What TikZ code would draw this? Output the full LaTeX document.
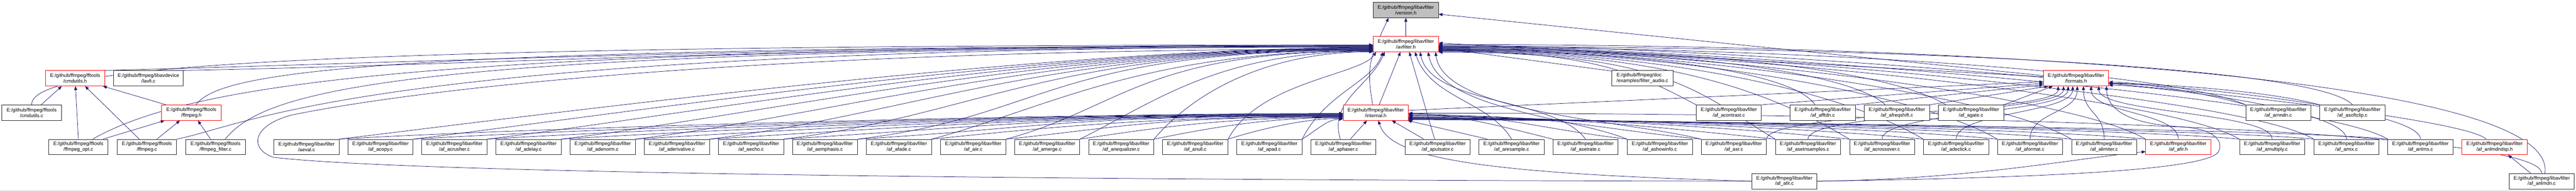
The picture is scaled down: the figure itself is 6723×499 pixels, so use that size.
\documentclass[tikz,border=0pt]{standalone}
\usepackage{fontspec}
\setmainfont{Liberation Sans}
\usetikzlibrary{arrows.meta,calc}
\pgfdeclarelayer{bg}
\pgfsetlayers{bg,main}
\definecolor{eblue}{HTML}{191970}
\definecolor{vgray}{HTML}{BFBFBF}
\newcommand\nfont{\fontsize{12.8}{14.5}\selectfont}
\newcommand\lav[4]{\node[#1] (#2) at (#3) {E:/github/ffmpeg/libavfilter\\/#4};}
\begin{document}
\begin{tikzpicture}[x=1pt,y=1pt,
 box/.style={draw=black!85, fill=white, line width=1.1pt, minimum height=40pt, minimum width=170pt, inner sep=0pt, align=center, font=\nfont},
 rbox/.style={box, draw=red},
 gbox/.style={box, fill=vgray},
 e/.style={draw=eblue, line width=1pt, -{Triangle[length=10pt,width=8pt]}}]
\begin{pgfonlayer}{bg}
\fill[white] (0,0) rectangle (6723,-499);
\end{pgfonlayer}
\useasboundingbox (0,0) rectangle (6723,-499);
\draw[black!35, line width=1pt] (0,-498.5) -- (6723,-498.5);
% row 0,1
\lav{gbox}{V}{3669,-26}{version.h}
\lav{rbox}{A}{3669,-115}{avfilter.h}
% row 2
\node[rbox, minimum width=154pt] (CH) at (196,-204) {E:/github/ffmpeg/fftools\\/cmdutils.h};
\node[box, minimum width=181pt] (lavfi) at (387.5,-204) {E:/github/ffmpeg/libavdevice\\/lavfi.c};
\node[box, minimum width=159pt, align=left] (FA) at (4286.5,-204) {E:/github/ffmpeg/doc\\/examples/filter\_audio.c};
\lav{rbox}{F}{5418,-204}{formats.h}
% row 3
\node[box, minimum width=155pt] (CC) at (82.5,-293.5) {E:/github/ffmpeg/fftools\\/cmdutils.c};
\node[rbox, minimum width=155pt] (FH) at (499.5,-293.5) {E:/github/ffmpeg/fftools\\/ffmpeg.h};
\lav{rbox}{I}{3590.5,-293.5}{internal.h}
\lav{box}{acontr}{4512,-293.5}{af\_acontrast.c}
\lav{box}{afftdn}{4757,-293.5}{af\_afftdn.c}
\lav{box}{afreq}{4950.5,-293.5}{af\_afreqshift.c}
\lav{box}{agate}{5144,-293.5}{af\_agate.c}
\lav{box}{arnndn}{5946,-293.5}{af\_arnndn.c}
\lav{box}{asoft}{6139.5,-293.5}{af\_asoftclip.c}
% row 4
\node[box, minimum width=155pt] (opt) at (204.5,-383) {E:/github/ffmpeg/fftools\\/ffmpeg\_opt.c};
\node[box, minimum width=155pt] (ffc) at (383.5,-383) {E:/github/ffmpeg/fftools\\/ffmpeg.c};
\node[box, minimum width=155pt] (filt) at (562.5,-383) {E:/github/ffmpeg/fftools\\/ffmpeg\_filter.c};
\lav{box}{aeval}{800,-383}{aeval.c}
\lav{box}{acopy}{993,-383}{af\_acopy.c}
\lav{box}{acrusher}{1186,-383}{af\_acrusher.c}
\lav{box}{adelay}{1379.5,-383}{af\_adelay.c}
\lav{box}{adenorm}{1573,-383}{af\_adenorm.c}
\lav{box}{aderiv}{1766.5,-383}{af\_aderivative.c}
\lav{box}{aecho}{1960,-383}{af\_aecho.c}
\lav{box}{aemph}{2153,-383}{af\_aemphasis.c}
\lav{box}{afade}{2346,-383}{af\_afade.c}
\lav{box}{aiir}{2540,-383}{af\_aiir.c}
\lav{box}{amerge}{2733,-383}{af\_amerge.c}
\lav{box}{aneq}{2926,-383}{af\_anequalizer.c}
\lav{box}{anull}{3119.5,-383}{af\_anull.c}
\lav{box}{apad}{3313,-383}{af\_apad.c}
\lav{box}{aphaser}{3506,-383}{af\_aphaser.c}
\lav{box}{apuls}{3752,-383}{af\_apulsator.c}
\lav{box}{aresamp}{3945,-383}{af\_aresample.c}
\lav{box}{asetrate}{4138,-383}{af\_asetrate.c}
\lav{box}{ashow}{4332,-383}{af\_ashowinfo.c}
\lav{box}{asr}{4525,-383}{af\_asr.c}
\lav{box}{asetn}{4718.5,-383}{af\_asetnsamples.c}
\lav{box}{across}{4912,-383}{af\_acrossover.c}
\lav{box}{adeclick}{5105,-383}{af\_adeclick.c}
\lav{box}{aformat}{5298,-383}{af\_aformat.c}
\lav{box}{alimit}{5491.5,-383}{af\_alimiter.c}
\lav{rbox}{afirh}{5685,-383}{af\_afir.h}
\lav{box}{amult}{5930,-383}{af\_amultiply.c}
\lav{box}{amix}{6124,-383}{af\_amix.c}
\lav{box}{anlms}{6317,-383}{af\_anlms.c}
\lav{rbox}{ndsp}{6510.5,-383}{af\_anlmdndsp.h}
% row 5
\lav{box}{afirc}{4657,-472}{af\_afir.c}
\lav{box}{anlmdn}{6633.5,-472}{af\_anlmdn.c}
\coordinate (lp1) at (715,-410);
\coordinate (lp2) at (760,-300);
\coordinate (lp3) at (5790,-395);
\coordinate (lp4) at (5690,-330);
\begin{pgfonlayer}{bg}
% top
\draw[e] (A) -- (V);
\draw[e] ($(I.north)+(-8,0)$) to[out=100,in=-115,looseness=1.2] ($(V.south)+(-45,0)$);
\draw[e] ($(F.west)+(0,7)$) -- ($(V.east)+(0,-11)$);
\draw[e] ($(F.west)+(0,4)$) -- ($(A.east)+(0,3)$);
\draw[e] ($(I.east)+(0,6)$) -- ($(F.west)+(0,-9)$);
\draw[e] ($(I.north)+(9,0)$) -- ($(A.south)+(-14,0)$);
% fftools
\draw[e] ($(CC.north)+(25,0)$) -- ($(CH.south)+(-35,0)$);
\draw[e] (opt.north) -- ($(CH.south)+(1,0)$);
\draw[e] ($(ffc.north)+(-20,0)$) -- ($(CH.south)+(26,0)$);
\draw[e] ($(FH.north west)+(12,0)$) -- ($(CH.south east)+(-5,0)$);
\draw[e] ($(opt.north east)+(-14,0)$) -- ($(FH.south west)+(8,0)$);
\draw[e] ($(ffc.north)+(26,0)$) -- ($(FH.south)+(-30,0)$);
\draw[e] ($(filt.north)+(-13,0)$) -- ($(FH.south)+(17,0)$);
\draw[e] (CC.north) .. controls +(0,90) and +(-3000,0) .. ($(A.west)+(0,-2)$);
\draw[e] (CH.north east) .. controls +(800,20) and +(-1500,0) .. ($(A.west)+(0,-3)$);
\draw[e] (lavfi.north east) .. controls +(800,15) and +(-1500,0) .. ($(A.west)+(0,-4)$);
\draw[e] ($(FH.north)+(12,0)$) .. controls +(60,80) and +(-2700,0) .. ($(A.west)+(0,-5)$);
\draw[e] ($(opt.north)+(37,0)$) .. controls +(250,140) and +(-2500,0) .. ($(A.west)+(0,-6)$);
\draw[e] (ffc.north east) .. controls +(200,40) and +(-2600,0) .. ($(A.west)+(0,-7)$);
\draw[e] ($(filt.north east)+(-53,0)$) .. controls +(100,120) and +(-2600,0) .. ($(A.west)+(0,-8)$);
% left group
\foreach \n/\o/\p in {aeval/9/2,acopy/10/3,acrusher/11/4,adelay/12/5,adenorm/13/6,aderiv/14/7,aecho/15/8,aemph/16/9}{
 \draw[e] (\n.north east) .. controls +(500,60) and +(-850,0) .. ($(A.west)+(0,-\o)$);
 \draw[e] (\n.north east) .. controls +(500,30) and +(-750,0) .. ($(I.west)+(0,-\p)$);
}
\foreach \n/\o/\p in {afade/17/10,aiir/18/11}{
 \draw[e] (\n.north east) .. controls +(300,80) and +(-600,0) .. ($(A.west)+(0,-\o)$);
 \draw[e] (\n.north east) .. controls +(300,30) and +(-500,0) .. ($(I.west)+(0,-\p)$);
}
\draw[e] (amerge.north east) .. controls +(200,100) and +(-400,0) .. ($(A.west)+(0,-19)$);
\draw[e] (amerge.north east) .. controls +(200,30) and +(-300,0) .. ($(I.west)+(0,-12)$);
\draw[e] (aneq.north east) .. controls +(120,140) and +(-250,0) .. ($(A.west)+(0,-20)$);
\draw[e] (aneq.north east) .. controls +(150,30) and +(-200,0) .. ($(I.west)+(0,-13)$);
\draw[e] (anull.north east) .. controls +(80,150) and +(-40,-60) .. ($(A.south west)+(8,0)$);
\draw[e] (anull.north east) .. controls +(80,25) and +(-100,0) .. ($(I.west)+(0,-15)$);
\draw[e] (apad.north east) .. controls +(60,120) and +(-30,-80) .. ($(A.south west)+(26,0)$);
\draw[e] (apad.north east) .. controls +(40,25) and +(-40,0) .. ($(I.west)+(0,-17)$);
% near internal.h
\draw[e] ($(aphaser.north)+(18,0)$) -- ($(I.south)+(-23,0)$);
\draw[e] ($(aphaser.north)+(-8,0)$) .. controls +(-30,100) and +(-40,-90) .. ($(A.south)+(-55,0)$);
\draw[e] ($(apuls.north)+(-36,0)$) -- ($(I.south)+(42,0)$);
\draw[e] ($(apuls.north)+(-8,0)$) -- ($(A.south)+(9,0)$);
\draw[e] ($(aresamp.north)+(-63,0)$) -- ($(I.south east)+(-2,0)$);
\draw[e] (aresamp.north) .. controls +(-60,100) and +(40,-120) .. ($(A.south)+(24,0)$);
\draw[e] (asetrate.north west) .. controls +(-120,30) and +(120,0) .. ($(I.east)+(0,-2.5)$);
\draw[e] (asetrate.north) .. controls +(-80,110) and +(30,-140) .. ($(A.south)+(37,0)$);
\draw[e] (ashow.north west) .. controls +(-250,30) and +(250,0) .. ($(I.east)+(0,-4.5)$);
\draw[e] (ashow.north west) .. controls +(-150,60) and +(30,-150) .. ($(A.south)+(58,0)$);
\draw[e] (asr.north west) .. controls +(-300,30) and +(400,0) .. ($(I.east)+(0,-6.5)$);
\draw[e] (asr.north west) .. controls +(-200,50) and +(20,-160) .. ($(A.south east)+(-8,0)$);
\draw[e] (asr.north east) .. controls +(0,70) and +(0,-70) .. ($(F.south west)+(39,0)$);
% right group
\foreach \n/\p/\o/\f in {asetn/8.5/21/53,across/10.5/19/65,adeclick/12.5/17/77,aformat/13.5/15/89,alimit/14.5/13/105,afirh/15.5/11/125,amult/16.5/9/145}{
 \draw[e] (\n.north west) .. controls +(-300,30) and +(400,0) .. ($(I.east)+(0,-\p)$);
 \draw[e] (\n.north west) .. controls +(-200,120) and +(600,0) .. ($(A.east)+(0,-\o)$);
 \draw[e] (\n.north) .. controls +(0,70) and +(0,-70) .. ($(F.south west)+(\f,0)$);
}
\foreach \n/\p/\o in {amix/17.5/7,anlms/18.5/5}{
 \draw[e] (\n.north west) .. controls +(-300,30) and +(400,0) .. ($(I.east)+(0,-\p)$);
 \draw[e] (\n.north west) .. controls +(-200,120) and +(600,0) .. ($(A.east)+(0,-\o)$);
}
\draw[e] (amix.north) .. controls +(0,80) and +(100,0) .. ($(F.east)+(0,-18)$);
\draw[e] (anlms.north) .. controls +(0,80) and +(150,0) .. ($(F.east)+(0,-14)$);
\draw[e] ($(ndsp.north)+(-22,0)$) .. controls +(-80,80) and +(900,0) .. ($(A.east)+(0,-3)$);
\draw[e] ($(anlmdn.north west)+(57,0)$) -- ($(ndsp.south)+(35,0)$);
\draw[e] (anlmdn.north) .. controls +(0,110) and +(1500,0) .. ($(I.east)+(0,-1.5)$);
\draw[e] ($(anlmdn.north)+(8,0)$) .. controls +(40,250) and +(1400,0) .. ($(A.east)+(0,-1)$);
% row 3 right
\draw[e] (acontr.north west) .. controls +(-150,80) and +(400,0) .. ($(A.east)+(0,-18)$);
\draw[e] (acontr.north east) -- ($(F.west)+(0,-13)$);
\draw[e] ($(afftdn.north)+(-20,0)$) .. controls +(-60,90) and +(500,0) .. ($(A.east)+(0,-16)$);
\draw[e] (afftdn.north east) -- ($(F.west)+(0,-17)$);
\draw[e] ($(afreq.north)+(-30,0)$) .. controls +(-100,90) and +(600,0) .. ($(A.east)+(0,-14)$);
\draw[e] (afreq.north east) -- ($(F.south west)+(13,0)$);
\draw[e] ($(agate.north west)+(20,0)$) .. controls +(-150,90) and +(700,0) .. ($(A.east)+(0,-12)$);
\draw[e] (agate.north east) -- ($(F.south west)+(25,0)$);
\draw[e] (arnndn.north west) .. controls +(-200,90) and +(900,0) .. ($(A.east)+(0,-8)$);
\draw[e] (arnndn.north west) .. controls +(-100,30) and +(80,0) .. ($(F.east)+(0,-10)$);
\draw[e] (asoft.north) .. controls +(-100,110) and +(1000,0) .. ($(A.east)+(0,-6)$);
\draw[e] (asoft.north west) .. controls +(-150,40) and +(100,0) .. ($(F.east)+(0,-13)$);
\draw[e] ($(FA.west)+(0,19)$) -- ($(A.east)+(0,-10)$);
% af_afir.c
\draw[e] (afirc.east) .. controls +(400,5) and +(-200,-20) .. ($(afirh.west)+(0,-12)$);
\draw[e] (afirc.west) .. controls +(-700,20) and +(30,-100) .. ($(I.south)+(7,0)$);
\draw[e] (afirc.west) .. controls (3000,-470) and (1100,-455) .. (lp1) .. controls (655,-392) and (650,-330) .. (lp2) .. controls (1100,-230) and (2000,-128) .. ($(A.west)+(0,-13)$);
\draw[e] (afirc.east) .. controls (5200,-465) and (5760,-450) .. (lp3) .. controls (5805,-365) and (5775,-335) .. (lp4) .. controls (5590,-325) and (5500,-300) .. ($(F.south east)+(-6,0)$);
\end{pgfonlayer}
\end{tikzpicture}
\end{document}
